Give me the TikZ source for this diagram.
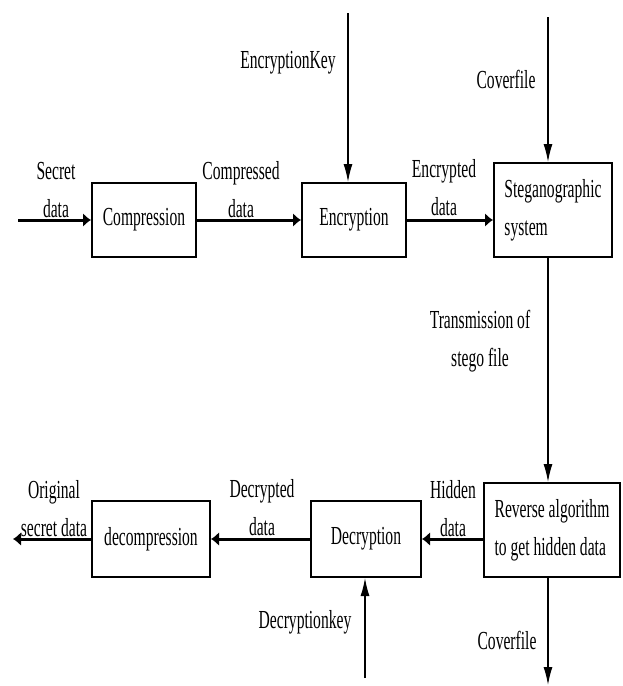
\documentclass[tikz,border=0pt]{standalone}
\usepackage{fontspec}
\setmainfont{Liberation Serif}[FakeStretch=0.6]
\usetikzlibrary{positioning, arrows.meta}

\begin{document}
\begin{tikzpicture}[
    x=0.5pt, y=-0.5pt,
    every node/.style={
      font=\fontsize{13}{19}\selectfont
    },
    box/.style={
      draw=black,
      line width=1pt
    },
    lbl/.style={
      align=center,
      inner sep=0pt
    },
    flow/.style={
      line width=1.5pt,
      -{Latex[length=4pt,width=7pt]}
    },
    feed/.style={
      line width=0.7pt,
      -{Latex[length=9pt,width=4.5pt]}
    }
  ]
  \useasboundingbox (0,0) rectangle (622,686);

  % sender side
  \node[box,minimum width=52pt,minimum height=37pt] (comp) at (144,220) {Compression};
  \node[box,minimum width=52pt,minimum height=37pt] (enc) at (354,220) {Encryption};
  \node[box,minimum width=59pt,minimum height=47pt,align=left] (steg) at (553,210) {Steganographic\\system};

  % receiver side
  \node[box,minimum width=68pt,minimum height=47pt,align=left] (rev) at (552,530) {Reverse algorithm\\to get hidden data};
  \node[box,minimum width=55pt,minimum height=38pt] (decr) at (366,539) {Decryption};
  \node[box,minimum width=59pt,minimum height=38pt] (decomp) at (151,539) {decompression};

  \coordinate (sin) at (18,220);
  \coordinate (ekey) at (348,13);
  \coordinate (cin) at (548,17);
  \coordinate (cout) at (548,685);
  \coordinate (dkey) at (365,678);
  \coordinate (sout) at (13,539);

  \draw[flow] (sin) -- (comp);
  \draw[flow] (comp) -- (enc);
  \draw[flow] (enc.east) -- (enc.east -| steg.west);
  \draw[feed] (ekey) -- (ekey |- enc.north);
  \draw[feed] (cin) -- (cin |- steg.north);
  \draw[feed] (cin |- steg.south) -- (cin |- rev.north);
  \draw[feed] (cin |- rev.south) -- (cout);
  \draw[flow] (decr.east -| rev.west) -- (decr.east);
  \draw[flow] (decr) -- (decomp);
  \draw[flow] (decomp) -- (sout);
  \draw[feed] (dkey) -- (dkey |- decr.south);

  % labels
  \node[lbl] (secret) at (56,190) {Secret\\data};
  \node[lbl] (compd) at (241,190) {Compressed\\data};
  \node[lbl] (encd) at (444,188) {Encrypted\\data};
  \node[lbl] (ekeyl) at (288,63) {EncryptionKey};
  \node[lbl] (cinl) at (506,79) {Coverfile};
  \node[lbl] (trans) at (480,341) {Transmission of\\stego file};
  \node[lbl] (hidden) at (453,509) {Hidden\\data};
  \node[lbl] (decd) at (262,508) {Decrypted\\data};
  \node[lbl] (orig) at (54,509) {Original\\secret data};
  \node[lbl] (dkeyl) at (305,622) {Decryptionkey};
  \node[lbl] (coutl) at (507,640) {Coverfile};
\end{tikzpicture}
\end{document}
